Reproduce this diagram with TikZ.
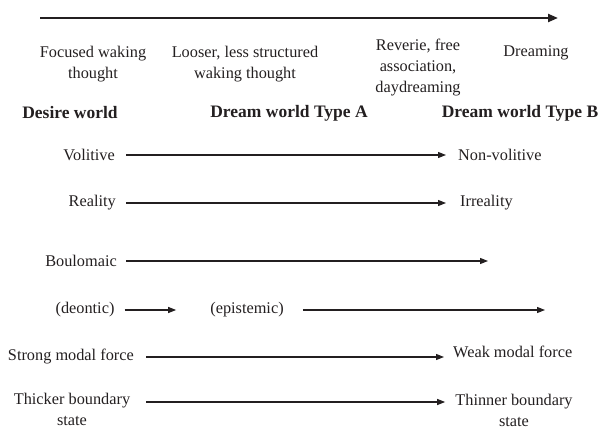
\documentclass[tikz,border=0pt]{standalone}
\usepackage{fontspec}
\setmainfont{Liberation Serif}
\usetikzlibrary{arrows.meta}
\definecolor{ink}{HTML}{231F20}
\tikzset{
  lbl/.style={inner sep=0pt, text=ink, font=\fontsize{16.3}{21}\selectfont, align=center},
  hd/.style={inner sep=0pt, text=ink, font=\fontsize{17.5}{21}\selectfont\bfseries},
  arr/.style={draw=ink, line width=1.1pt, -{Triangle[length=8pt,width=6pt]}},
  bigarr/.style={draw=ink, line width=2.2pt, -{Triangle[length=10pt,width=8pt]}}
}
\begin{document}
\begin{tikzpicture}[x=1pt,y=-1pt]
\useasboundingbox (0,0) rectangle (601,430);
% top arrow
\coordinate (t0) at (40,18);
\coordinate (t1) at (558,18);
\draw[bigarr] (t0) -- (t1);
% stage labels
\node[lbl, anchor=north] (focus) at (93,46) {Focused waking\\thought};
\node[lbl, anchor=north] (loose) at (245,46) {Looser, less structured\\waking thought};
\node[lbl, anchor=north] (rev) at (418,39) {Reverie, free\\association,\\daydreaming};
\node[lbl, anchor=north] (dream) at (536,46) {Dreaming};
% headings
\node[hd] (desire) at (70,113) {Desire world};
\node[hd] (dwa) at (289,113) {Dream world Type A};
\node[hd] (dwb) at (520,113) {Dream world Type B};
% rows
\node[lbl, anchor=east] (vol) at (115,155) {Volitive};
\node[lbl, anchor=west] (nvol) at (458,155) {Non-volitive};
\draw[arr] ([xshift=11pt]vol.east) -- ([xshift=-12pt]nvol.west);

\node[lbl, anchor=east] (real) at (116,203) {Reality};
\node[lbl, anchor=west] (irr) at (460,203) {Irreality};
\draw[arr] ([xshift=10pt]real.east) -- ([xshift=-14pt]irr.west);

\node[lbl, anchor=east] (boul) at (117,261) {Boulomaic};
\coordinate (boulend) at (488,261);
\draw[arr] ([xshift=9pt]boul.east) -- (boulend |- boul.east);

\node[lbl] (deon) at (85,310) {(deontic)};
\node[lbl] (epis) at (247,310) {(epistemic)};
\coordinate (episend) at (545,310);
\draw[arr] ([xshift=10pt]deon.east) -- ([xshift=-34pt]epis.west);
\draw[arr] ([xshift=19pt]epis.east) -- (episend |- epis.east);

\node[lbl, anchor=east] (strong) at (134,357) {Strong modal force};
\node[lbl, anchor=west] (weak) at (453,352) {Weak modal force};
\draw[arr] ([xshift=12pt]strong.east) -- ([xshift=-9pt]weak.west |- strong.east);

\node[lbl, anchor=north] (thick) at (72,393) {Thicker boundary\\state};
\node[lbl, anchor=north] (thin) at (514,394) {Thinner boundary\\state};
\coordinate (thickr) at (133,402);
\draw[arr] ([xshift=13pt]thickr) -- ([xshift=-10pt]thin.west |- thickr);
\end{tikzpicture}
\end{document}
